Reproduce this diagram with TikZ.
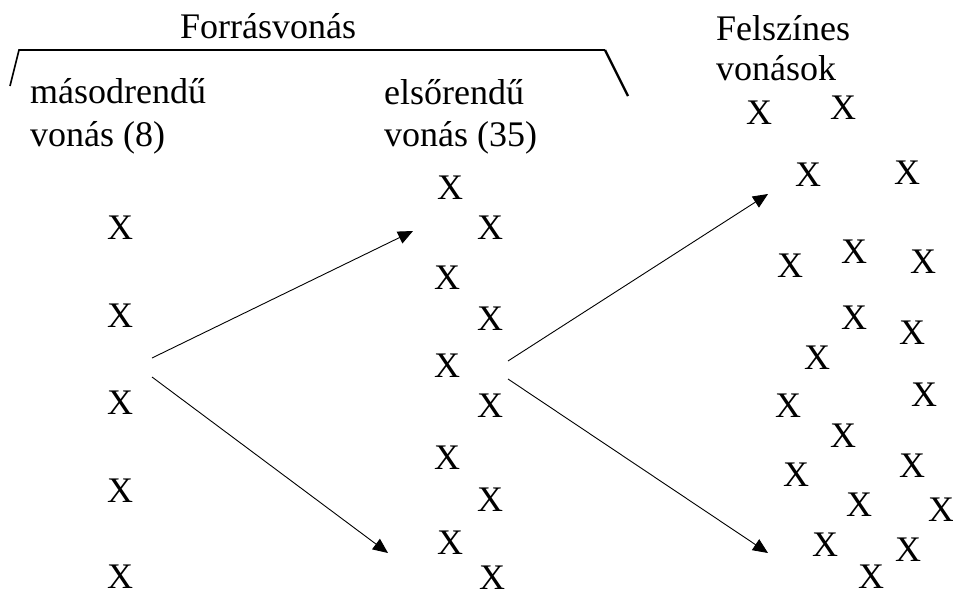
\documentclass[tikz,border=0pt]{standalone}
\usepackage{fontspec}
\setmainfont{Liberation Serif}
\usetikzlibrary{arrows.meta}

\begin{document}
\begin{tikzpicture}[x=1pt,y=-1pt,
  cross/.style={font=\fontsize{36}{40}\selectfont, inner sep=0pt},
  label/.style={font=\fontsize{36}{40}\selectfont, inner sep=0pt, anchor=base west},
  arr/.style={line width=0.9pt, -{Triangle[length=15pt,width=13pt]}}]
\useasboundingbox (0,0) rectangle (953,597);
\node[label] (forras) at (180,38) {Forrásvonás};
\node[label] (masod1) at (30,103) {másodrendű};
\node[label] (masod2) at (30,146) {vonás (8)};
\node[label] (elso1) at (384,104) {elsőrendű};
\node[label] (elso2) at (384,146) {vonás (35)};
\node[label] (felsz1) at (716,40) {Felszínes};
\node[label] (felsz2) at (716,80) {vonások};
\coordinate (BL) at (10,86);
\coordinate (BA) at (19,50);
\coordinate (BB) at (605,50);
\coordinate (BR) at (628,96);
\draw[line width=1.6pt] (BL) -- (BA) -- (BB);
\draw[line width=2.4pt] (BB) -- (BR);
\foreach \p [count=\i] in {(120,228),(120,316),(120,403),(120,491),(120,577)}
  \node[cross] (l\i) at \p {X};
\foreach \p [count=\i] in {(450,188),(490,228),(447,278),(490,319),(447,366),(490,406),
  (447,458),(490,500),(450,543),(492,578)}
  \node[cross] (m\i) at \p {X};
\foreach \p [count=\i] in {(759,113),(843,108),(808,175),(907,173),(790,266),(854,252),
  (923,262),(854,318),(912,333),(817,358),(788,406),(924,395),(843,436),(796,475),
  (912,466),(859,505),(941,510),(825,545),(908,550),(871,577)}
  \node[cross] (r\i) at \p {X};
\coordinate (s1) at (152,358);
\coordinate (s2) at (152,377);
\coordinate (t1) at (413,231);
\coordinate (t2) at (388,553);
\coordinate (s3) at (508,361);
\coordinate (s4) at (508,379);
\coordinate (t3) at (768,194);
\coordinate (t4) at (768,553);
\draw[arr] (s1) -- (t1);
\draw[arr] (s2) -- (t2);
\draw[arr] (s3) -- (t3);
\draw[arr] (s4) -- (t4);
\end{tikzpicture}
\end{document}
